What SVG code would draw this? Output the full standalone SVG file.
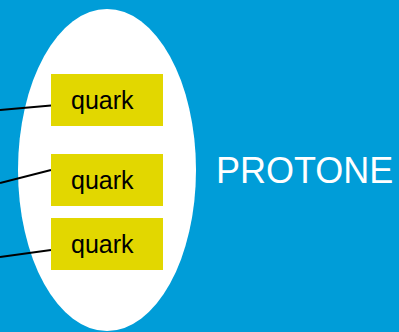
<svg xmlns="http://www.w3.org/2000/svg" width="399" height="332" viewBox="0 0 399 332">
<style>
.box{fill:#E2D700}
.lbl{font-family:"Liberation Sans",Arial,sans-serif;font-size:25px;fill:#000}
.conn{stroke:#000;stroke-width:2;fill:none}
</style>
<rect x="0" y="0" width="399" height="332" fill="#009DD8"/>
<g id="proton">
<ellipse cx="107" cy="170" rx="89" ry="161" fill="#FFFFFF"/>
</g>
<g id="connectors">
<line class="conn" x1="0" y1="110" x2="51" y2="105.5"/>
<line class="conn" x1="0" y1="183" x2="51" y2="170"/>
<line class="conn" x1="0" y1="257" x2="51" y2="250"/>
</g>
<g id="quark1">
<rect class="box" x="51" y="74" width="112" height="52"/>
<text class="lbl" x="71" y="109">quark</text>
</g>
<g id="quark2">
<rect class="box" x="51" y="154" width="112" height="52"/>
<text class="lbl" x="71" y="189">quark</text>
</g>
<g id="quark3">
<rect class="box" x="51" y="218" width="112" height="52"/>
<text class="lbl" x="71" y="253">quark</text>
</g>
<g id="label">
<text x="216" y="183" font-family="Liberation Sans,Arial,sans-serif" font-size="36" fill="#FFFFFF">PROTONE</text>
</g>
</svg>
